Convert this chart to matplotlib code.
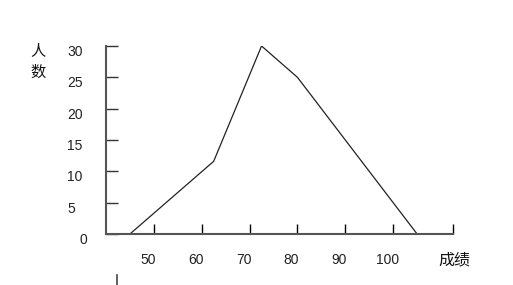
import matplotlib
matplotlib.use("Agg")
import matplotlib.pyplot as plt
import matplotlib.transforms as mtransforms
from matplotlib.lines import Line2D

# frequency polygon: score vs. number of students
scores = [45, 62.5, 72.5, 80, 105]
counts = [0, 11.6, 30, 25, 0]

x_ticks = [50, 60, 70, 80, 90, 100]
x_labels = ["50", "60", "70", "80", "90", "100"]
y_ticks = [0, 5, 10, 15, 20, 25, 30]
y_labels = ["0", "5", "10", "15", "20", "25", "30"]

W, H, DPI = 513, 285, 100
FONT = ["Liberation Sans", "Noto Sans CJK SC"]
CJK = ["Noto Sans CJK SC", "DejaVu Sans"]

fig = plt.figure(figsize=(W / DPI, H / DPI), dpi=DPI)
fig.patch.set_facecolor("white")

# axes box in pixels: x 106..453, y 46..234
ax = fig.add_axes([106 / W, 1 - 234 / H, (453 - 106) / W, (234 - 46) / H])
ax.set_xlim(40, 112.5)
ax.set_ylim(0, 30)

ax.plot(scores, counts, color="#222222", lw=0.9)

for s in ["top", "right"]:
    ax.spines[s].set_visible(False)
for s in ["left", "bottom"]:
    ax.spines[s].set_color("#555555")
    ax.spines[s].set_linewidth(1.5)

ax.set_xticks(x_ticks + [112.5])
ax.set_yticks(y_ticks)
ax.tick_params(axis="x", direction="in", length=7.2, width=1.0, color="black",
               labelbottom=False)
ax.tick_params(axis="y", direction="in", length=8.6, width=1.0, color="#333333",
               labelleft=False)

# y tick labels, placed like the original text boxes
ytr = mtransforms.blended_transform_factory(fig.transFigure, ax.transData)
yoff = mtransforms.ScaledTranslation(0, -6 / DPI, fig.dpi_scale_trans)
for v, lab in zip(y_ticks, y_labels):
    xpix = 79 if lab == "0" else 67
    ax.text(xpix / W, v, lab, transform=ytr + yoff, ha="left", va="center",
            fontsize=10, family=FONT, color="#222222")

# x tick labels
xtr = mtransforms.blended_transform_factory(ax.transData, fig.transFigure)
xoff = mtransforms.ScaledTranslation(-6 / DPI, 0, fig.dpi_scale_trans)
for v, lab in zip(x_ticks, x_labels):
    ax.text(v, 1 - 260 / H, lab, transform=xtr + xoff, ha="center", va="center",
            fontsize=10, family=FONT, color="#222222")

fig.text(454 / W, 1 - 260 / H, "成绩", ha="center", va="center",
         fontsize=11.5, family=CJK, color="#111111")
fig.text(38 / W, 1 - 51 / H, "人", ha="center", va="center",
         fontsize=11, family=CJK, color="#111111")
fig.text(38 / W, 1 - 72 / H, "数", ha="center", va="center",
         fontsize=11, family=CJK, color="#111111")

# small stray mark below the axis
fig.add_artist(Line2D([116.5 / W, 116.5 / W], [1 - 275 / H, 1 - 285 / H],
                      color="#444444", lw=1.2))

fig.savefig("out.png", dpi=DPI)
